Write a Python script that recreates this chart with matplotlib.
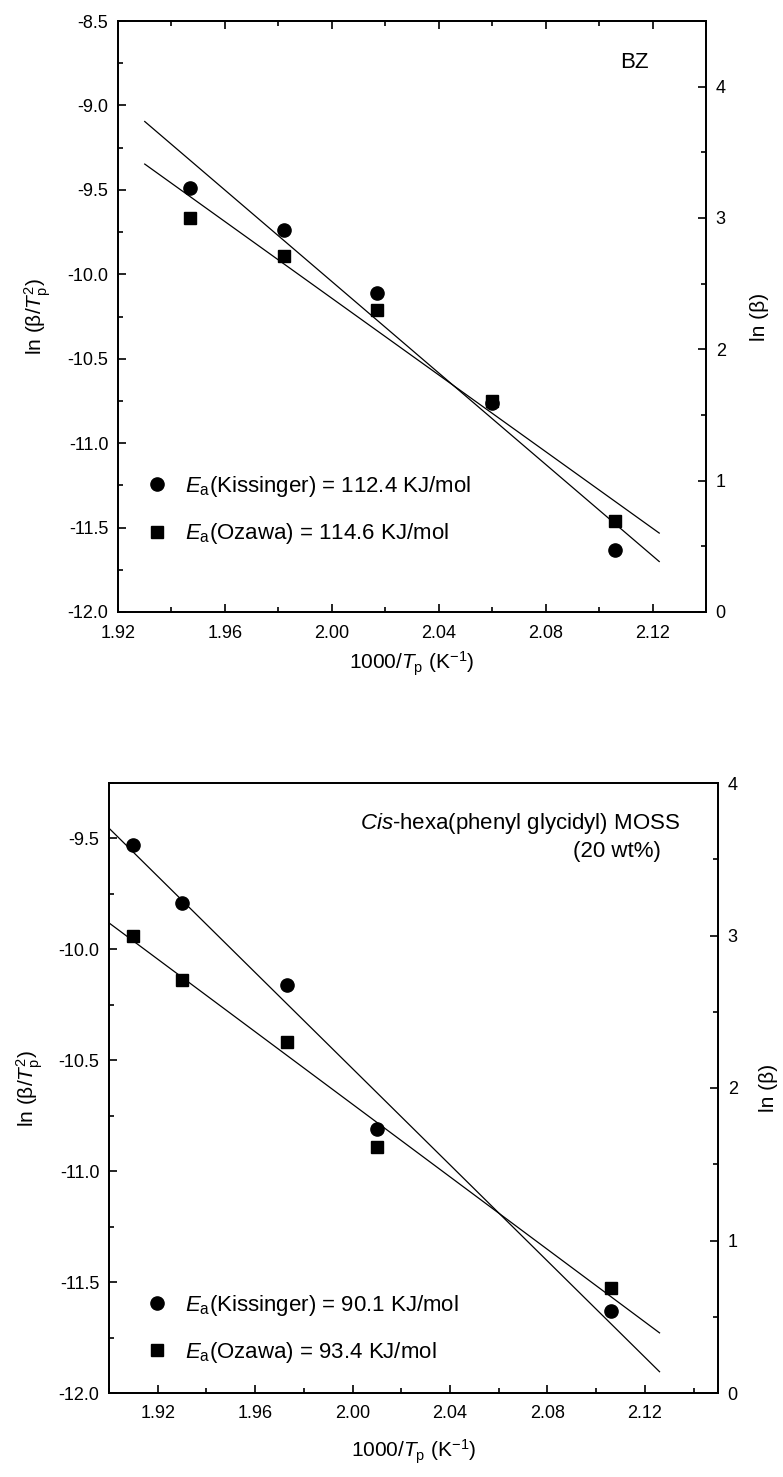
import numpy as np
import matplotlib
matplotlib.use("Agg")
import matplotlib.pyplot as plt
from matplotlib.lines import Line2D
from matplotlib.ticker import MultipleLocator, FormatStrFormatter

plt.rcParams['font.family'] = ['Liberation Sans', 'DejaVu Sans']
plt.rcParams['mathtext.fontset'] = 'custom'
plt.rcParams['mathtext.rm'] = 'Liberation Sans'
plt.rcParams['mathtext.it'] = 'Liberation Sans:italic'
plt.rcParams['mathtext.bf'] = 'Liberation Sans:bold'

# ---------------- data ----------------
# Top panel (BZ)
bz_x = [1.947, 1.982, 2.017, 2.060, 2.106]
bz_kissinger = [-9.49, -9.74, -10.11, -10.76, -11.63]   # ln(beta/Tp^2), left axis
bz_ozawa = [3.00, 2.71, 2.30, 1.61, 0.69]               # ln(beta), right axis
bz_fit_range = [1.930, 2.1225]
bz_legend = [r'$\mathit{E}_\mathrm{a}$(Kissinger) = 112.4 KJ/mol',
             r'$\mathit{E}_\mathrm{a}$(Ozawa) = 114.6 KJ/mol']

# Bottom panel (Cis-hexa(phenyl glycidyl) MOSS, 20 wt%)
moss_x = [1.910, 1.930, 1.973, 2.010, 2.106]
moss_kissinger = [-9.53, -9.79, -10.16, -10.81, -11.63]
moss_ozawa = [3.00, 2.71, 2.30, 1.61, 0.69]
moss_fit_range = [1.900, 2.126]
moss_legend = [r'$\mathit{E}_\mathrm{a}$(Kissinger) = 90.1 KJ/mol',
               r'$\mathit{E}_\mathrm{a}$(Ozawa) = 93.4 KJ/mol']

xlabel = r'1000/$\mathit{T}_\mathrm{p}$ (K$^{\mathrm{-1}}$)'
ylabel_left = r'ln (β/$\mathit{T}_\mathrm{p}^\mathrm{2}$)'
ylabel_right = 'ln (β)'

W, H = 783, 1477
fig = plt.figure(figsize=(W / 100, H / 100), dpi=100)

TICK_FS = 13
LAB_FS = 15
TXT_FS = 16


def px_axes(l, r, t, b):
    return [l / W, 1 - b / H, (r - l) / W, (b - t) / H]


def panel(rect, x, yk, yo, fit_range, xlim, ylim_l, ylim_r, legend_labels,
          legend_anchor, top_ticks, label_x, rlabel_x):
    ax = fig.add_axes(rect)
    ax2 = ax.twinx()
    ax.set_xlim(*xlim)
    ax.set_ylim(*ylim_l)
    ax2.set_ylim(*ylim_r)

    ax.plot(x, yk, 'o', color='black', markersize=9.5, zorder=3)
    ax2.plot(x, yo, 's', color='black', markersize=8.5, zorder=3)

    xf = np.array(fit_range)
    pk = np.polyfit(x, yk, 1)
    po = np.polyfit(x, yo, 1)
    ax.plot(xf, np.polyval(pk, xf), color='black', lw=0.9, clip_on=False)
    ax2.plot(xf, np.polyval(po, xf), color='black', lw=0.9, clip_on=False)

    ax.xaxis.set_major_locator(MultipleLocator(0.04))
    ax.xaxis.set_minor_locator(MultipleLocator(0.02))
    ax.xaxis.set_major_formatter(FormatStrFormatter('%.2f'))
    ax.yaxis.set_major_locator(MultipleLocator(0.5))
    ax.yaxis.set_minor_locator(MultipleLocator(0.25))
    ax.yaxis.set_major_formatter(FormatStrFormatter('%.1f'))
    ax2.yaxis.set_major_locator(MultipleLocator(1))
    ax2.yaxis.set_minor_locator(MultipleLocator(0.5))
    ax2.yaxis.set_major_formatter(FormatStrFormatter('%d'))

    for a in (ax, ax2):
        for s in a.spines.values():
            s.set_linewidth(1.3)
        a.tick_params(which='both', direction='in', width=1.2, labelsize=TICK_FS)
        a.tick_params(which='major', length=6)
        a.tick_params(which='minor', length=3.5)
    ax.tick_params(which='both', top=top_ticks, right=False)
    ax.tick_params(axis='x', which='major', pad=9)
    ax.tick_params(axis='y', which='major', pad=7)
    ax2.tick_params(axis='y', which='major', pad=7)

    ax.set_xlabel(xlabel, fontsize=LAB_FS)
    ax.set_ylabel(ylabel_left, fontsize=LAB_FS)
    ax2.set_ylabel(ylabel_right, fontsize=LAB_FS)
    ax.yaxis.set_label_coords(label_x, 0.5)
    ax2.yaxis.set_label_coords(rlabel_x, 0.5)

    handles = [Line2D([], [], ls='none', marker='o', color='black', markersize=9.5),
               Line2D([], [], ls='none', marker='s', color='black', markersize=8.5)]
    ax2.legend(handles, legend_labels, loc='center left', bbox_to_anchor=legend_anchor,
               frameon=False, fontsize=TXT_FS, handlelength=1.0, handletextpad=0.75,
               labelspacing=1.0, borderpad=0, borderaxespad=0)
    return ax, ax2


# top panel
ax_t, ax_t2 = panel(px_axes(118, 706, 21, 612), bz_x, bz_kissinger, bz_ozawa,
                    bz_fit_range, (1.92, 2.14), (-12.0, -8.5), (0, 4.5), bz_legend,
                    (0.048, 0.172), True, -0.11, 1.075)
ax_t.xaxis.labelpad = 6
ax_t.text(0.878, 0.929, 'BZ', transform=ax_t.transAxes, ha='center', va='center',
          fontsize=TXT_FS)

# bottom panel
ax_b, ax_b2 = panel(px_axes(109, 718, 783, 1393), moss_x, moss_kissinger, moss_ozawa,
                    moss_fit_range, (1.90, 2.15), (-12.0, -9.25), (0, 4), moss_legend,
                    (0.061, 0.105), False, -0.105, 1.068)
ax_b.xaxis.labelpad = 11
ax_b.text(0.9376, 0.934, r'$\mathit{Cis}$-hexa(phenyl glycidyl) MOSS',
          transform=ax_b.transAxes, ha='right', va='center', fontsize=TXT_FS)
ax_b.text(0.834, 0.887, '(20 wt%)', transform=ax_b.transAxes, ha='center',
          va='center', fontsize=TXT_FS)

fig.savefig('out.png', dpi=100)
